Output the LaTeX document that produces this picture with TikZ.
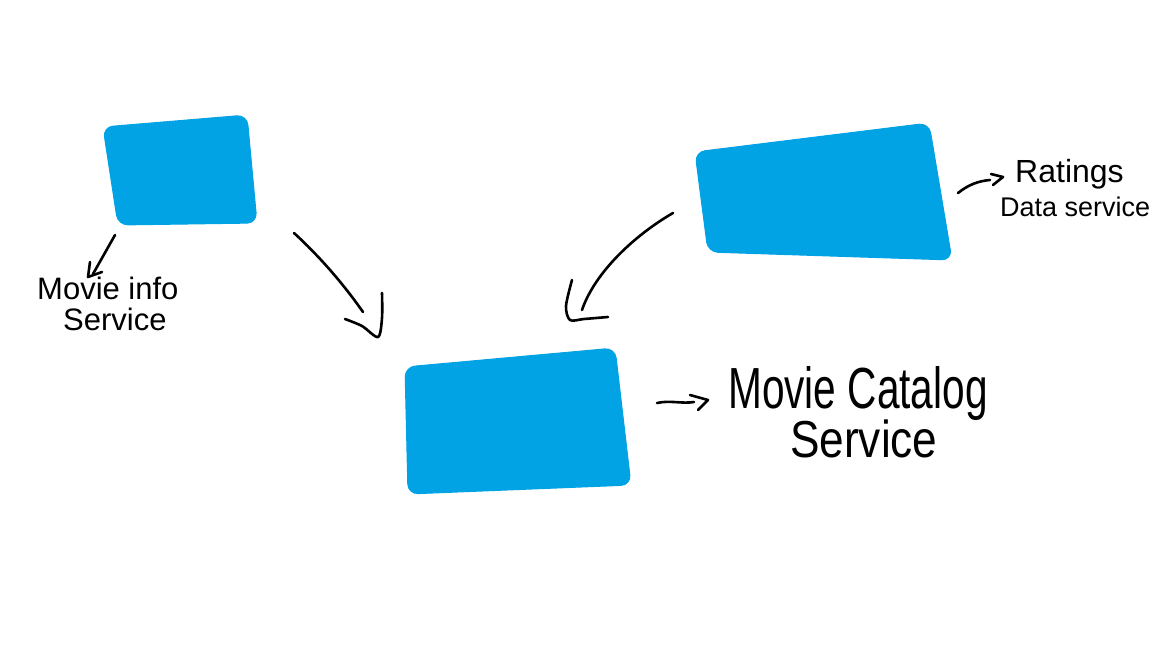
\documentclass[tikz,border=0pt]{standalone}
\usepackage{fontspec}
\usepackage{graphicx}
\setmainfont{Liberation Sans}
\definecolor{boxblue}{RGB}{2,163,228}
\begin{document}
\begin{tikzpicture}[x=1pt,y=-1pt,
  svcbox/.style={fill=boxblue,draw=boxblue,line width=1pt,rounded corners=10pt},
  pen/.style={draw=black,line width=2.6pt,line cap=round,line join=round},
  note/.style={inner sep=0pt,anchor=base west,text=black}]
\useasboundingbox[fill=white] (0,0) rectangle (1152,648);
% service boxes
\coordinate (b1a) at (103,127); \coordinate (b1b) at (247,115);
\coordinate (b1c) at (257,223); \coordinate (b1d) at (118,225);
\coordinate (b2a) at (695,152); \coordinate (b2b) at (929,123);
\coordinate (b2c) at (952,260); \coordinate (b2d) at (708,252);
\coordinate (b3a) at (405,367); \coordinate (b3b) at (615,348);
\coordinate (b3c) at (631,485); \coordinate (b3d) at (408,494);
\path[svcbox] (b1a) -- (b1b) -- (b1c) -- (b1d) -- cycle;
\path[svcbox] (b2a) -- (b2b) -- (b2c) -- (b2d) -- cycle;
\path[svcbox] (b3a) -- (b3b) -- (b3c) -- (b3d) -- cycle;
% arrow: movie info -> catalog
\coordinate (a1s) at (294,233); \coordinate (a1e) at (363,312);
\path[pen] (a1s) .. controls (318,255) and (342,282) .. (a1e);
\path[pen] plot[smooth,tension=0.5] coordinates {(345,319) (362,326) (378,337) (382,318) (382,293)};
% arrow: ratings -> catalog
\coordinate (a2s) at (673,213); \coordinate (a2e) at (582,310);
\path[pen] (a2s) .. controls (635,235) and (595,272) .. (a2e);
\path[pen] plot[smooth,tension=0.5] coordinates {(572,280) (566,306) (570,320) (584,319) (608,317)};
% label arrows
\coordinate (l1s) at (115,235); \coordinate (l1e) at (93,274);
\path[pen] (l1s) -- (l1e);
\path[pen] (90,262) -- (88,277) -- (102,272);
\coordinate (l2s) at (958,193); \coordinate (l2e) at (990,180);
\path[pen] (l2s) .. controls (968,185) and (978,181) .. (l2e);
\path[pen] (991,174) -- (1003,177) -- (993,185);
\coordinate (l3s) at (657,403); \coordinate (l3e) at (694,402);
\path[pen] (l3s) .. controls (670,400) and (682,404) .. (l3e);
\path[pen] (690,395) -- (708,400) -- (698,410);
% labels
\node[note,font=\fontsize{31}{31}\selectfont] (t1) at (37,299) {Movie info};
\node[note,font=\fontsize{31}{31}\selectfont] (t2) at (63,330) {Service};
\node[note,font=\fontsize{32}{32}\selectfont] (t3) at (1015,182) {Ratings};
\node[note,font=\fontsize{27}{27}\selectfont] (t4) at (1000,216) {Data service};
\node[note,font=\fontsize{58}{58}\selectfont] (t5) at (728,408) {\scalebox{0.7}[1]{Movie Catalog}};
\node[note,font=\fontsize{52}{52}\selectfont] (t6) at (790,457) {\scalebox{0.85}[1]{Service}};
\end{tikzpicture}
\end{document}
